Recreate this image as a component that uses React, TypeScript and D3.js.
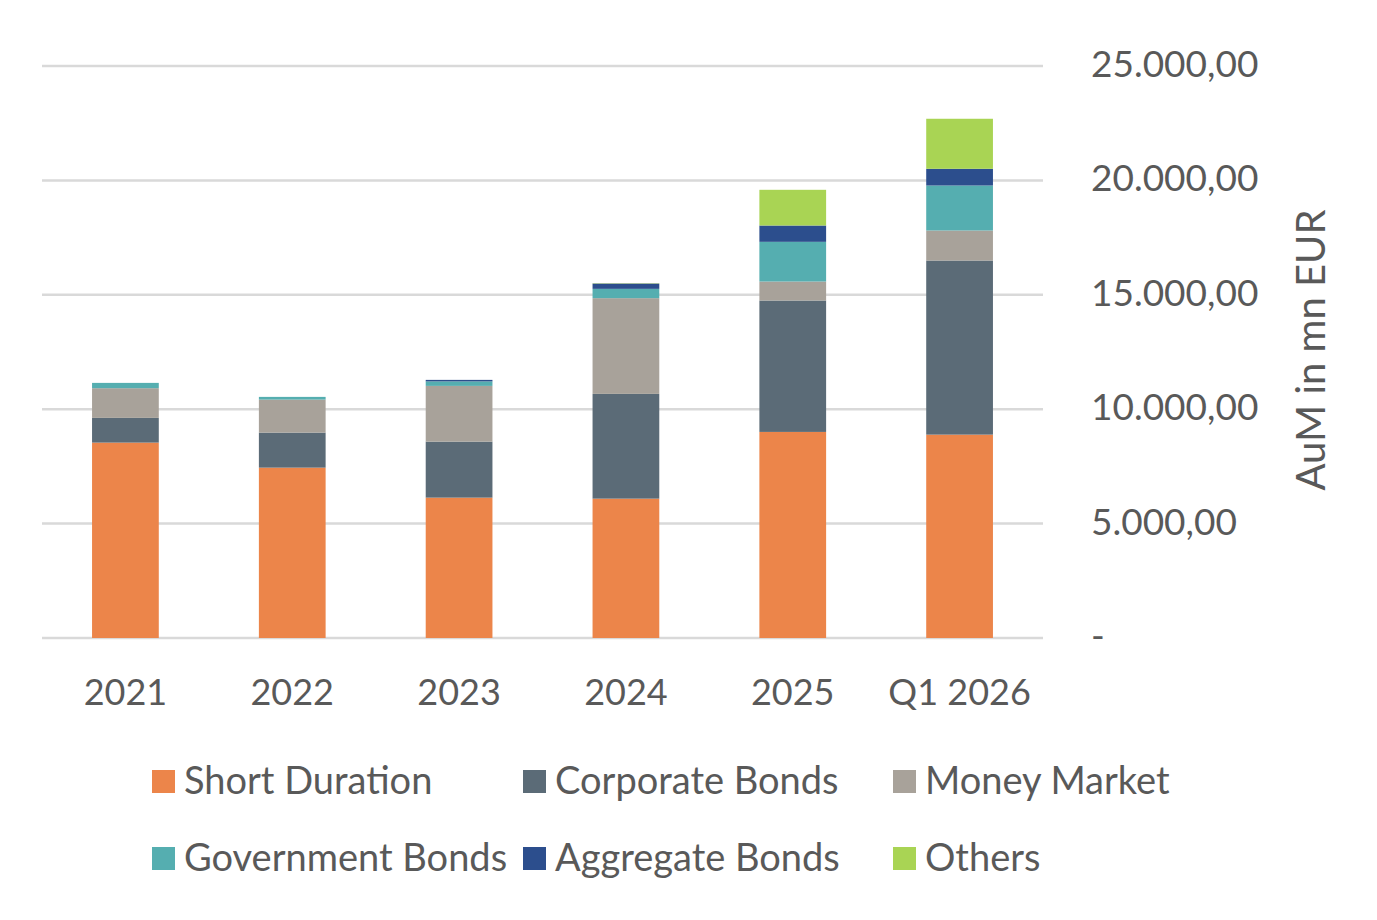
import { useEffect, useRef } from 'react';
import * as d3 from 'd3';

const PERIODS = ['2021', '2022', '2023', '2024', '2025', 'Q1 2026'];

const SERIES = [
  'Short Duration',
  'Corporate Bonds',
  'Money Market',
  'Government Bonds',
  'Aggregate Bonds',
  'Others',
];

// AuM in mn EUR per period
const SHORT_DURATION = [8540, 7446, 6135, 6091, 9007, 8889];
const CORPORATE_BONDS = [1080, 1531, 2448, 4578, 5742, 7609];
const MONEY_MARKET = [1298, 1443, 2436, 4184, 831, 1312];
const GOVERNMENT_BONDS = [232, 118, 197, 407, 1735, 1967];
const AGGREGATE_BONDS = [0, 0, 65, 232, 713, 730];
const OTHERS = [0, 0, 0, 15, 1561, 2187];

const Y_TICKS = [0, 5000, 10000, 15000, 20000, 25000];

const COLORS = ['#EC854A', '#5B6B77', '#A8A29A', '#55AEB0', '#2C4E8D', '#A9D454'];

const FONT = 'Lato, "Open Sans", sans-serif';
const TEXT = '#595959';

export default function App() {
  const svgRef = useRef<SVGSVGElement>(null);

  useEffect(() => {
    if (!svgRef.current) return;
    const svg = d3.select(svgRef.current);
    svg.selectAll('*').remove();

    const values = [SHORT_DURATION, CORPORATE_BONDS, MONEY_MARKET, GOVERNMENT_BONDS, AGGREGATE_BONDS, OTHERS];
    const rows = PERIODS.map((p, i) => {
      const row: Record<string, number | string> = { period: p };
      SERIES.forEach((s, j) => { row[s] = values[j][i]; });
      return row;
    });
    const stacked = d3.stack<Record<string, number | string>>().keys(SERIES)(rows as any);

    const x = d3.scaleBand().domain(PERIODS).range([42, 1043]).paddingInner(0.6).paddingOuter(0.3);
    const y = d3.scaleLinear().domain([0, 25000]).range([638, 66]);

    const locale = d3.formatLocale({ decimal: ',', thousands: '.', grouping: [3], currency: ['', '€'] });
    const fmt = locale.format(',.2f');

    // gridlines
    svg.append('g').selectAll('line').data(Y_TICKS).join('line')
      .attr('x1', 42).attr('x2', 1043)
      .attr('y1', d => y(d)).attr('y2', d => y(d))
      .attr('stroke', '#D9D9D9').attr('stroke-width', 2.5);

    // stacked bars
    svg.append('g').selectAll('g').data(stacked).join('g')
      .attr('fill', (_, i) => COLORS[i])
      .selectAll('rect').data(d => d.filter(seg => seg[1] - seg[0] > 0)).join('rect')
      .attr('x', d => x(d.data.period as string)!)
      .attr('width', x.bandwidth())
      .attr('y', d => y(d[1]))
      .attr('height', d => y(d[0]) - y(d[1]));

    // right axis tick labels
    svg.append('g').selectAll('text').data(Y_TICKS).join('text')
      .attr('x', 1091).attr('y', d => y(d) - 2)
      .attr('dy', '0.35em')
      .attr('fill', TEXT).attr('font-family', FONT).attr('font-size', 37)
      .text(d => (d === 0 ? '-' : fmt(d)));

    svg.append('text')
      .attr('transform', 'translate(1325,350) rotate(-90)')
      .attr('text-anchor', 'middle')
      .attr('fill', TEXT).attr('font-family', FONT).attr('font-size', 40)
      .text('AuM in mn EUR');

    // category labels
    svg.append('g').selectAll('text').data(PERIODS).join('text')
      .attr('x', d => x(d)! + x.bandwidth() / 2)
      .attr('y', 705)
      .attr('text-anchor', 'middle')
      .attr('fill', TEXT).attr('font-family', FONT).attr('font-size', 36)
      .text(d => d);

    // legend, three columns on two rows
    const colX = [152, 523, 893];
    const rowY = [781, 858];
    const legend = svg.append('g').selectAll('g').data(SERIES).join('g')
      .attr('transform', (_, i) => `translate(${colX[i % 3]},${rowY[Math.floor(i / 3)]})`);
    legend.append('rect')
      .attr('x', 0).attr('y', -11).attr('width', 23).attr('height', 23)
      .attr('fill', (_, i) => COLORS[i]);
    legend.append('text')
      .attr('x', 32).attr('y', 0).attr('dy', '0.35em')
      .attr('fill', TEXT).attr('font-family', FONT).attr('font-size', 38)
      .text(d => d);
  }, []);

  return (
    <svg
      ref={svgRef}
      width={1377}
      height={920}
      style={{ position: 'absolute', left: 0, top: 0, background: '#fff' }}
    />
  );
}
